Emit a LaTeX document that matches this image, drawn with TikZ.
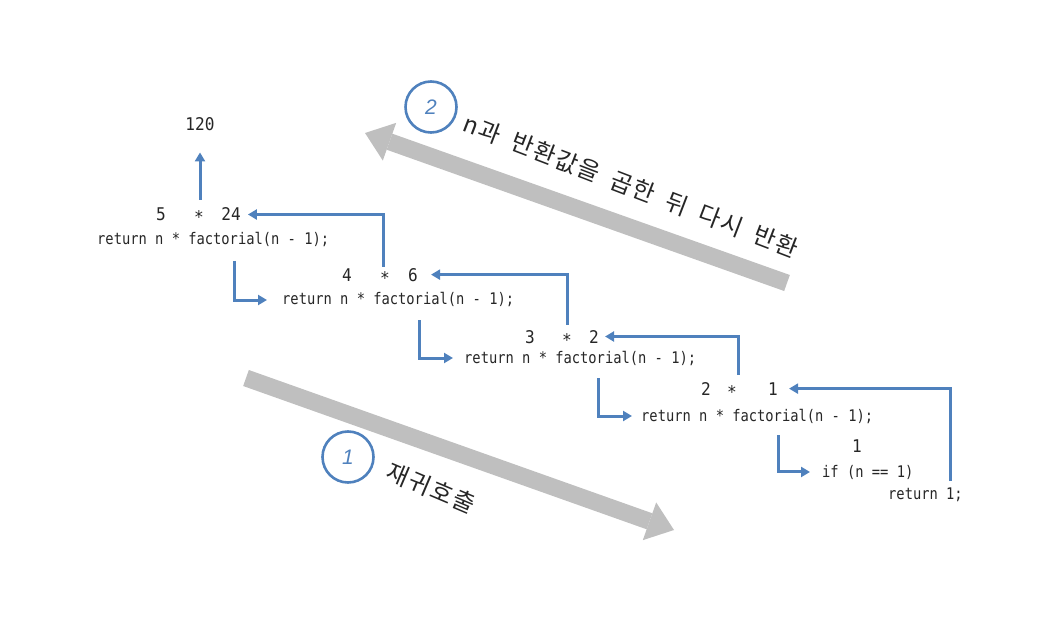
\documentclass[tikz,border=0pt]{standalone}
\usepackage{fontspec}
\usetikzlibrary{arrows.meta,calc}
\newfontfamily\codefont[FakeStretch=0.86]{DejaVu Sans Mono}
\newfontfamily\numfontm[FakeStretch=0.92]{DejaVu Sans Mono}
\newfontfamily\kofont[LetterSpace=7]{Noto Sans CJK KR}
\newfontfamily\numfont{Liberation Sans}
\definecolor{cblue}{HTML}{4F81BD}
\definecolor{cgray}{HTML}{BFBFBF}
\begin{document}
\begin{tikzpicture}[x=1pt,y=-1pt,
 code/.style={font=\codefont\fontsize{16}{18}\selectfont, inner sep=0pt, anchor=base west, text=black!85},
 num/.style={font=\numfontm\fontsize{17.5}{19}\selectfont, inner sep=0pt, anchor=base, text=black!85},
 conn/.style={draw=cblue, line width=3pt, -{Triangle[length=9pt,width=10pt]}},
 bigarrow/.style={draw=cgray, line width=17pt, -{Triangle[length=26pt,width=40pt,line width=0pt]}},
 circ/.style={circle, draw=cblue, line width=2.6pt, minimum size=51pt, inner sep=0pt, text=cblue, font=\numfont\itshape\fontsize{21}{23}\selectfont},
 ko/.style={font=\kofont\fontsize{24}{26}\selectfont, inner sep=0pt, text=black!85}]
\useasboundingbox (0,0) rectangle (1048,617);

% big gray arrows
\coordinate (g1s) at (246,378);
\coordinate (g1e) at (674,530);
\coordinate (g2s) at (787,283);
\coordinate (g2e) at (365,133);
\draw[bigarrow] (g1s) -- (g1e);
\draw[bigarrow] (g2s) -- (g2e);

% circles and labels
\node[circ] (k2) at (431,107) {2};
\node[circ] (k1) at (348,457) {1};
\node[ko, rotate=-21] (t2) at (631,186) {n과\hspace{13pt}반환값을\hspace{13pt}곱한\hspace{13pt}뒤\hspace{13pt}다시\hspace{13pt}반환};
\node[ko, rotate=-23] (t1) at (431,488) {재귀호출};

% result
\node[num] (r) at (200,131) {120};

% row 1
\node[num] (a1) at (161,221) {5};
\node[num, yshift=-3pt] (s1) at (199,221) {*};
\node[num] (b1) at (231,221) {24};
\node[code] (c1) at (97,245) {return n * factorial(n - 1);};

% row 2
\node[num] (a2) at (347,281) {4};
\node[num, yshift=-3pt] (s2) at (385,281) {*};
\node[num] (b2) at (413,281) {6};
\node[code] (c2) at (282,305) {return n * factorial(n - 1);};

% row 3
\node[num] (a3) at (530,343) {3};
\node[num, yshift=-3pt] (s3) at (567,343) {*};
\node[num] (b3) at (594,343) {2};
\node[code] (c3) at (464,363) {return n * factorial(n - 1);};

% row 4
\node[num] (a4) at (706,395) {2};
\node[num, yshift=-3pt] (s4) at (732,395) {*};
\node[num] (b4) at (773,395) {1};
\node[code] (c4) at (641,421) {return n * factorial(n - 1);};

% base case
\node[num] (b5) at (857,452) {1};
\node[code] (c5) at (822,477) {if (n == 1)};
\node[code] (c6) at (888,499) {return 1;};

% upward result arrow
\draw[conn] ($(s1.north)+(1,-11)$) -- ($(r.south)+(0,21)$);

% return arrows
\draw[conn, shorten >=7pt] ($(s2.north)+(-2,-4)$) |- (b1.east);
\draw[conn, shorten >=13pt] ($(s3.north)+(0,-8)$) |- (b2.east);
\draw[conn, shorten >=6pt] ($(s4.north)+(6,-10)$) |- (b3.east);
\draw[conn, shorten >=11pt] ($(c6.north east)+(-12,-6)$) |- (b4.east);

% call arrows
\draw[conn, shorten >=15pt] ($(c1.base west)+(137,16)$) |- (c2.west);
\draw[conn, shorten >=11pt] ($(c2.base west)+(137,15)$) |- (c3.west);
\draw[conn, shorten >=9pt] ($(c3.base west)+(134,15)$) |- (c4.west);
\draw[conn, shorten >=12pt] ($(c4.base west)+(137,14)$) |- (c5.west);
\end{tikzpicture}
\end{document}
